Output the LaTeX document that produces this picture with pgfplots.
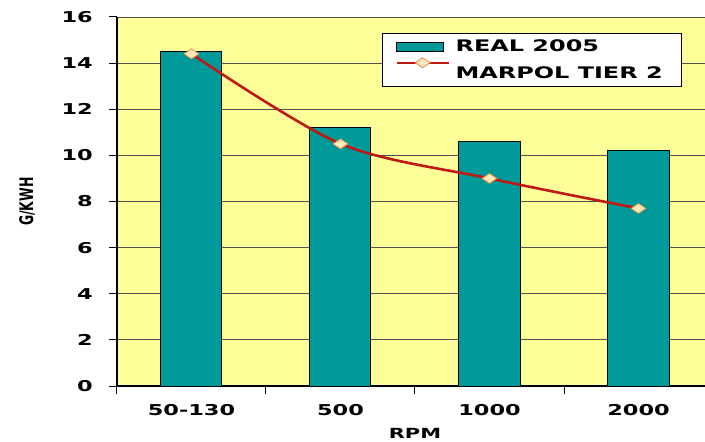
\documentclass[border=0pt]{standalone}
\usepackage{graphicx}
\usepackage{fontspec}
\usepackage{pgfplots}
\pgfplotsset{compat=1.18}
\newfontfamily\chartfont[FakeStretch=1.5]{DejaVu Sans}
\newfontfamily\labfont{DejaVu Sans}
\definecolor{barteal}{RGB}{0,153,153}
\definecolor{bgyellow}{RGB}{255,255,153}
\definecolor{gridgray}{RGB}{80,80,80}
\definecolor{linered}{RGB}{190,25,20}
\definecolor{markfill}{RGB}{255,232,185}
\definecolor{markedge}{RGB}{225,140,70}
\begin{document}
\begin{tikzpicture}
\clip (-117bp,-56bp) rectangle (588bp,386bp);
\begin{axis}[
  at={(0,0)}, anchor=south west,
  scale only axis, width=596bp, height=369bp,
  xmin=-0.5, xmax=3.5, ymin=0, ymax=16,
  axis background/.style={fill=bgyellow},
  axis x line*=bottom, axis y line*=left,
  axis line style={-, black, line width=1.3bp},
  xtick={-0.5,0.5,1.5,2.5,3.5}, xticklabels={},
  extra x ticks={0,1,2,3},
  extra x tick labels={50-130,500,1000,2000},
  extra x tick style={major tick length=0pt, grid=none,
     xticklabel style={inner sep=0pt, anchor=north, yshift=-18bp}},
  ytick={0,2,...,16},
  ymajorgrids, grid style={gridgray, line width=0.9bp},
  tick align=outside,
  major tick length=8bp,
  x tick style={black, line width=1bp},
  y tick style={black, line width=1bp},
  tick label style={font=\chartfont\bfseries\fontsize{15}{18}\selectfont},
  /pgf/number format/assume math mode=true,
  yticklabel style={inner sep=0pt, anchor=east, xshift=-16bp},
  xlabel={RPM},
  every axis x label/.style={at={(axis description cs:0.5,0)}, anchor=north, inner sep=0pt, yshift=-42bp, font=\chartfont\bfseries\fontsize{14}{17}\selectfont},
  ylabel={\scalebox{1}[1.5]{G/KWH}},
  every axis y label/.style={at={(axis description cs:0,0.5)}, xshift=-90bp, rotate=90, anchor=center, inner sep=0pt, font=\labfont\bfseries\fontsize{12.5}{14}\selectfont},
  legend style={at={(0.4446,0.9566)}, anchor=north west, draw=black, line width=1bp, fill=white,
     font=\chartfont\bfseries\fontsize{16}{19}\selectfont,
     inner xsep=13bp, inner ysep=6.5bp, row sep=4bp, column sep=6bp, nodes={inner sep=0pt}},
  legend cell align=left,
]
\addplot[ybar, bar width=61bp, fill=barteal, draw=black, line width=1bp,
  legend image code/.code={\draw[fill=barteal, draw=black, line width=0.8bp] (0bp,-5bp) rectangle (47bp,4bp);}]
  coordinates {(0,14.5) (1,11.2) (2,10.6) (3,10.2)};
\addlegendentry{REAL 2005}
\addplot[smooth, color=linered, line width=2.6bp, mark=diamond*, mark size=5bp,
  mark options={fill=markfill, draw=markedge, line width=0.8bp, xscale=2, solid},
  legend image code/.code={\draw[linered, line width=2.2bp] (0bp,11bp) -- (52bp,11bp);
     \draw[fill=markfill, draw=markedge, line width=0.8bp] (26bp,6bp) -- (33.5bp,11bp) -- (26bp,16bp) -- (18.5bp,11bp) -- cycle;}]
  coordinates {(0,14.4) (1,10.5) (2,9.0) (3,7.7)};
\addlegendentry{MARPOL TIER 2\hspace*{6bp}}
\end{axis}
\end{tikzpicture}
\end{document}
